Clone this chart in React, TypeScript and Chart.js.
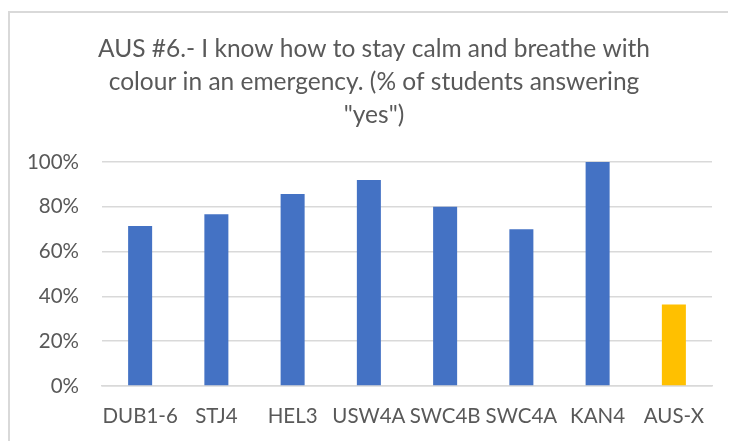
import React, { useEffect, useRef } from "react";
import { Chart, registerables } from "chart.js";

Chart.register(...registerables);

const categories = ["DUB1-6", "STJ4", "HEL3", "USW4A", "SWC4B", "SWC4A", "KAN4", "AUS-X"];
const values = [71.4, 76.7, 85.7, 92, 80, 70, 100, 36.4];
const barColors = ["#4472C4", "#4472C4", "#4472C4", "#4472C4", "#4472C4", "#4472C4", "#4472C4", "#FFC000"];
const titleLines = [
  "AUS #6.- I know how to stay calm and breathe with",
  "colour in an emergency. (% of students answering",
  '"yes")',
];
const yTicks = [0, 20, 40, 60, 80, 100];

const FONT = "Lato";
const TEXT = "#595959";
const GRID = "#d9d9d9";

export default function App() {
  const ref = useRef<HTMLCanvasElement | null>(null);
  useEffect(() => {
    if (!ref.current) return;
    const chart = new Chart(ref.current, {
      type: "bar",
      data: {
        labels: categories,
        datasets: [
          {
            data: values,
            backgroundColor: barColors,
            borderWidth: 0,
            categoryPercentage: 1,
            barPercentage: 0.315,
          },
        ],
      },
      options: {
        animation: false,
        responsive: false,
        maintainAspectRatio: false,
        layout: { padding: 0 },
        plugins: {
          legend: { display: false },
          tooltip: { enabled: false },
          title: {
            display: true,
            text: titleLines,
            color: TEXT,
            font: { family: FONT, size: 24.5, weight: "normal", lineHeight: 1.347 },
            padding: { top: 20, bottom: 30 },
          },
        },
        scales: {
          x: {
            grid: { display: false, drawTicks: false },
            border: { display: true, color: GRID, width: 1.5 },
            ticks: {
              color: TEXT,
              padding: 18,
              maxRotation: 0,
              autoSkip: false,
              font: { family: FONT, size: 20.5, lineHeight: 1.2 },
            },
            afterFit: (s: any) => {
              s.height = 63;
            },
          },
          y: {
            min: 0,
            max: 100,
            afterBuildTicks: (s: any) => {
              s.ticks = yTicks.map((v) => ({ value: v }));
            },
            grid: { color: GRID, lineWidth: 1.5, drawTicks: false },
            border: { display: false },
            ticks: {
              color: TEXT,
              padding: 23,
              font: { family: FONT, size: 20.5, lineHeight: 1.2 },
              callback: (v: any) => v + "%",
            },
            afterFit: (s: any) => {
              s.width = 92;
            },
          },
          spacer: {
            type: "linear",
            position: "right",
            display: true,
            min: 0,
            max: 100,
            grid: { display: false, drawTicks: false },
            border: { display: false },
            ticks: { display: false },
            afterFit: (s: any) => {
              s.width = 26;
            },
          },
        },
      },
    });
    return () => chart.destroy();
  }, []);

  return (
    <div
      style={{
        position: "relative",
        top: 3,
        width: 760,
        height: 440,
        border: "2px solid #d9d9d9",
        boxSizing: "border-box",
        background: "#fff",
      }}
    >
      <canvas ref={ref} width={728} height={436} style={{ display: "block", width: 728, height: 436 }} />
    </div>
  );
}
